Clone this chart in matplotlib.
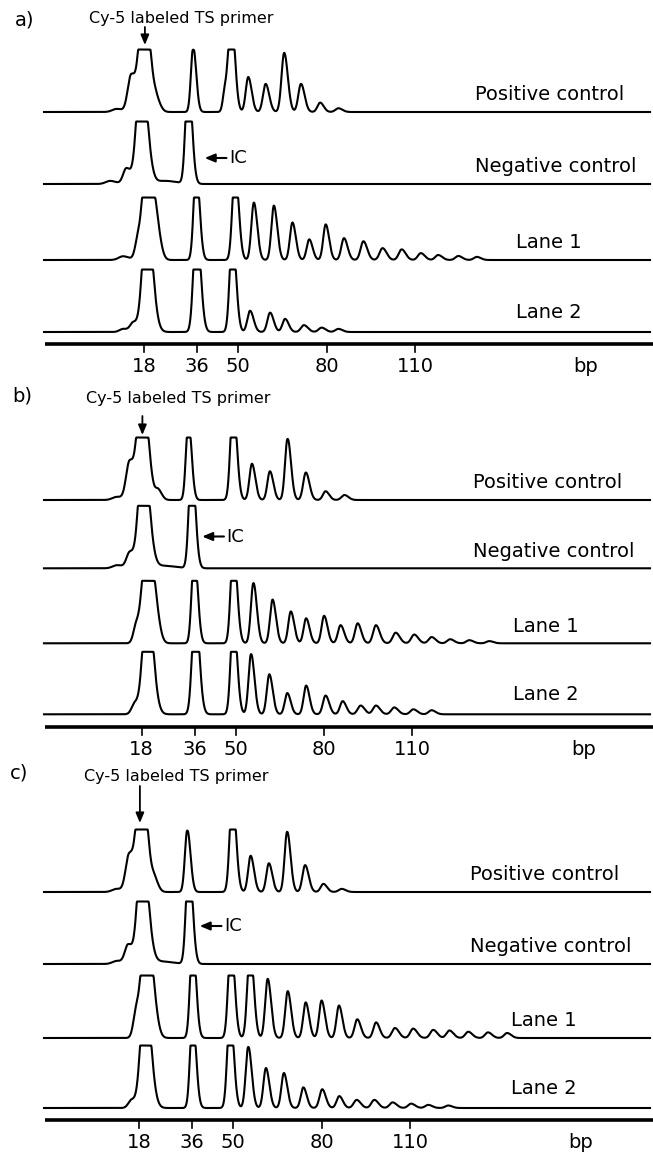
import matplotlib
matplotlib.use('Agg')
import matplotlib.pyplot as plt
import numpy as np

W, H = 653, 1153

BP_TICKS = [18, 36, 50, 80, 110]
LANE_NAMES = ['Positive control', 'Negative control', 'Lane 1', 'Lane 2']
PANEL_LABELS = ['a)', 'b)', 'c)']

# peaks: (size in bp, height relative to detector saturation, sigma in bp)
A_POS = [(8.7, 0.05, 1.5), (13.6, 0.58, 1.15), (17.9, 2.0, 1.45), (22.3, 0.15, 1.0),
         (34.7, 1.05, 0.75), (45.5, 0.35, 0.7), (47.6, 1.6, 0.9), (53.4, 0.56, 0.85),
         (59.3, 0.45, 0.9), (65.6, 0.95, 0.9), (71.3, 0.45, 0.9), (77.8, 0.15, 0.9),
         (84.0, 0.06, 1.0)]
A_NEG = [(6.5, 0.05, 1.5), (12.0, 0.25, 1.1), (17.0, 2.0, 1.45), (25.1, 0.05, 3.0),
         (33.0, 1.8, 0.9)]
A_L1 = [(10.9, 0.06, 1.5), (16.0, 0.32, 1.0), (19.2, 2.0, 1.4), (22.5, 0.32, 1.0),
        (35.7, 1.5, 0.85), (48.9, 1.5, 0.9), (55.3, 0.92, 0.85), (62.1, 0.87, 0.85),
        (68.4, 0.60, 0.85), (74.1, 0.33, 0.85), (79.7, 0.57, 0.85), (85.9, 0.35, 0.9),
        (92.5, 0.30, 0.95), (99.0, 0.19, 1.0), (105.5, 0.17, 1.0), (112.0, 0.11, 1.0),
        (117.9, 0.08, 1.0), (124.7, 0.065, 1.0), (131.0, 0.05, 1.0)]
A_L2 = [(10.9, 0.05, 1.2), (14.4, 0.15, 1.1), (18.9, 2.0, 1.4), (35.8, 1.8, 1.0),
        (48.0, 1.6, 0.9), (54.0, 0.34, 0.9), (60.8, 0.31, 0.9), (65.9, 0.21, 0.9),
        (72.3, 0.11, 1.0), (78.3, 0.07, 1.0), (84.0, 0.05, 1.0)]

B_POS = [(9.6, 0.05, 1.5), (13.9, 0.6, 1.15), (18.1, 2.0, 1.45), (23.7, 0.15, 0.9),
         (33.9, 1.3, 0.8), (49.1, 1.6, 0.9), (55.5, 0.58, 0.85), (61.6, 0.46, 0.85),
         (67.6, 0.99, 0.85), (73.8, 0.44, 0.9), (80.5, 0.14, 0.9), (86.9, 0.08, 1.0)]
B_NEG = [(9.7, 0.05, 1.5), (14.0, 0.25, 1.1), (18.5, 2.0, 1.45), (25.5, 0.04, 3.0),
         (35.0, 1.8, 0.9)]
B_L1 = [(16.3, 0.3, 1.0), (19.9, 2.0, 1.4), (23.0, 0.28, 1.0), (35.9, 1.5, 0.85),
        (49.2, 1.6, 0.9), (56.0, 0.97, 0.85), (62.5, 0.70, 0.85), (68.7, 0.51, 0.85),
        (73.9, 0.40, 0.85), (80.0, 0.44, 0.85), (85.6, 0.29, 0.9), (91.4, 0.32, 0.9),
        (97.6, 0.29, 0.95), (104.3, 0.17, 1.0), (110.6, 0.14, 1.0), (116.5, 0.10, 1.0),
        (122.8, 0.065, 1.0), (129.3, 0.05, 1.0), (136.1, 0.035, 1.0)]
B_L2 = [(15.8, 0.18, 1.1), (19.9, 2.0, 1.4), (36.2, 1.8, 1.0), (49.2, 1.6, 0.9),
        (55.2, 0.97, 0.85), (61.4, 0.64, 0.85), (67.5, 0.34, 0.85), (73.9, 0.46, 0.85),
        (80.5, 0.30, 0.9), (86.3, 0.21, 0.9), (92.4, 0.14, 1.0), (97.6, 0.14, 1.0),
        (103.8, 0.11, 1.0), (110.3, 0.08, 1.0), (116.5, 0.065, 1.0)]

C_POS = [(10.4, 0.05, 1.5), (14.6, 0.58, 1.15), (18.7, 2.0, 1.45), (23.4, 0.16, 0.9),
         (34.4, 1.0, 0.8), (49.7, 1.6, 0.9), (55.9, 0.58, 0.85), (62.1, 0.46, 0.85),
         (68.3, 0.97, 0.85), (74.4, 0.43, 0.9), (80.6, 0.13, 0.9), (86.8, 0.05, 1.0)]
C_NEG = [(10.5, 0.05, 1.5), (14.3, 0.3, 1.1), (19.0, 2.0, 1.45), (25.5, 0.04, 3.0),
         (34.9, 1.8, 0.9)]
C_L1 = [(17.1, 0.42, 1.0), (20.4, 2.0, 1.4), (23.2, 0.2, 1.0), (36.2, 1.6, 0.85),
        (49.2, 1.6, 0.9), (55.7, 1.5, 0.9), (61.7, 0.95, 0.85), (68.5, 0.75, 0.85),
        (74.6, 0.57, 0.85), (80.0, 0.60, 0.85), (85.9, 0.52, 0.85), (92.1, 0.30, 0.9),
        (98.5, 0.25, 0.9), (104.9, 0.16, 1.0), (111.1, 0.15, 1.0), (117.9, 0.13, 1.0),
        (123.4, 0.12, 1.0), (129.8, 0.10, 1.0), (136.5, 0.09, 1.0), (143.0, 0.08, 1.0)]
C_L2 = [(15.5, 0.13, 1.1), (20.0, 2.0, 1.4), (36.2, 1.5, 0.85), (48.9, 1.6, 0.9),
        (55.1, 0.99, 0.85), (61.1, 0.64, 0.85), (67.2, 0.56, 0.85), (73.8, 0.33, 0.85),
        (80.2, 0.30, 0.9), (86.0, 0.19, 0.9), (91.9, 0.13, 1.0), (97.9, 0.13, 1.0),
        (104.1, 0.09, 1.0), (110.4, 0.07, 1.0), (116.2, 0.05, 1.0), (123.0, 0.04, 1.0)]

PANELS = [[A_POS, A_NEG, A_L1, A_L2],
          [B_POS, B_NEG, B_L1, B_L2],
          [C_POS, C_NEG, C_L1, C_L2]]

# layout (pixels)
PX_PER_BP = 2.945
ZERO_BP_PX = [91, 88.5, 86]
PANEL_TOP = [0, 380, 765]
PANEL_BOTTOM = [380, 765, 1153]
AXIS_Y = [344, 726.5, 1120]
LANE_OFFSETS = [[232, 160, 84, 12], [226.5, 158.2, 83.2, 12.2], [228, 156, 82, 12]]
SAT_PX = 62.5
PRIMER_TEXT_Y = [325.7, 328.2, 344]
PRIMER_ARROW = [(317, 299), (310.5, 291.5), (334, 297)]
PANEL_LABEL_Y = [324, 330.5, 347]
IC_Y = [186, 190, 194]


def trace(x, peaks):
    s = np.zeros_like(x)
    for mu, h, w in peaks:
        # slight tailing on the late side of each peak
        sig = np.where(x < mu, 1.0 * w, 1.35 * w)
        s += h * np.exp(-0.5 * ((x - mu) / sig) ** 2)
    # detector saturation -> flat tops
    k = 0.025
    return -k * np.logaddexp(-s / k, -1.0 / k)


fig = plt.figure(figsize=(W / 100, H / 100), dpi=100)

for p in range(3):
    top, bot = PANEL_TOP[p], PANEL_BOTTOM[p]
    off = ZERO_BP_PX[p]
    ax = fig.add_axes([0, 1 - bot / H, 1, (bot - top) / H])
    ax.set_xlim((0 - off) / PX_PER_BP, (W - off) / PX_PER_BP)
    ax.set_ylim(AXIS_Y[p] - bot, AXIS_Y[p] - top)
    ax.axis('off')

    x = np.linspace((44 - off) / PX_PER_BP, (650 - off) / PX_PER_BP, 4000)
    for lane, peaks in enumerate(PANELS[p]):
        base = LANE_OFFSETS[p][lane]
        ax.plot(x, base + SAT_PX * trace(x, peaks), color='black', lw=1.5,
                solid_joinstyle='round')
        lx = 130.5 if lane < 2 else 144.2
        ly = base + (20 if lane == 3 else 17)
        ax.text(lx, ly, LANE_NAMES[lane], ha='left', va='center', fontsize=14)

    # size axis
    ax.plot([(45 - off) / PX_PER_BP, (W - off) / PX_PER_BP], [0, 0], color='black', lw=2.6,
            solid_capstyle='butt')
    for t in BP_TICKS:
        ax.plot([t, t], [0, -8], color='black', lw=1.2)
        ax.text(t, -23, str(t), ha='center', va='center', fontsize=14)
    ax.text(168, -23, 'bp', ha='center', va='center', fontsize=14)

    ax.text(-26, PANEL_LABEL_Y[p], PANEL_LABELS[p], ha='left', va='center', fontsize=14)
    ax.text(30.5, PRIMER_TEXT_Y[p], 'Cy-5 labeled TS primer', ha='center', va='center',
            fontsize=11.5)
    y0, y1 = PRIMER_ARROW[p]
    ax.annotate('', xy=(18.3, y1), xytext=(18.3, y0),
                arrowprops=dict(arrowstyle='-|>,head_length=0.6,head_width=0.25',
                                color='black', lw=1.3, shrinkA=0, shrinkB=0))
    ax.annotate('', xy=(38.6, IC_Y[p]), xytext=(46.0, IC_Y[p]),
                arrowprops=dict(arrowstyle='-|>,head_length=0.6,head_width=0.25',
                                color='black', lw=1.5, shrinkA=0, shrinkB=0))
    ax.text(46.8, IC_Y[p], 'IC', ha='left', va='center', fontsize=13)

fig.savefig('out.png', dpi=100)
